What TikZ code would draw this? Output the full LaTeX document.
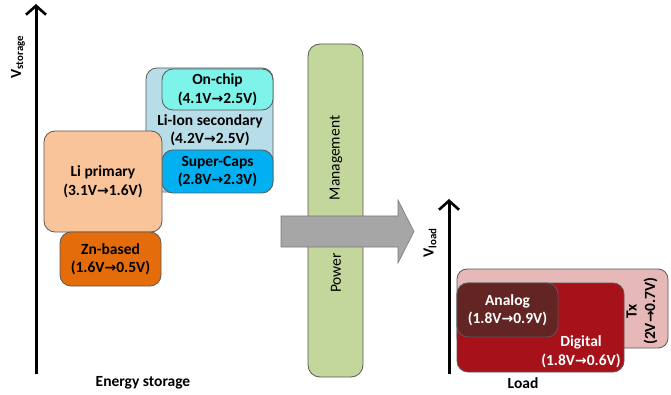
\documentclass[tikz,border=0pt]{standalone}
\usepackage{fontspec}
\setmainfont{Carlito}
\newfontfamily\arrowfont{DejaVu Sans}
\usetikzlibrary{arrows.meta}
\newcommand{\myarr}{{\arrowfont\bfseries\fontsize{14}{14}\selectfont →}}
\definecolor{bordergray}{HTML}{595959}
\definecolor{liion}{HTML}{B7DDE8}
\definecolor{onchip}{HTML}{7EF3EA}
\definecolor{supercap}{HTML}{00B0F0}
\definecolor{liprim}{HTML}{F9C49A}
\definecolor{znbased}{HTML}{E46C0A}
\definecolor{pmbar}{HTML}{C3D69B}
\definecolor{arrowgray}{HTML}{A6A6A6}
\definecolor{txcol}{HTML}{E6B9B8}
\definecolor{digcol}{HTML}{A6111A}
\definecolor{anacol}{HTML}{632523}
\begin{document}
\begin{tikzpicture}[x=1pt,y=-1pt,
  font=\fontsize{15.5}{18.5}\selectfont\bfseries,
  box/.style={draw=bordergray, line width=0.8pt, rounded corners=11pt, inner sep=0pt},
  axis/.style={line width=3pt, -{Straight Barb[length=9pt,width=20pt,line width=2.6pt]}},
  txt/.style={align=center, inner sep=0pt},
  pmtxt/.style={rotate=90, inner sep=0pt, font=\fontsize{15.5}{18.5}\selectfont\mdseries}]
\useasboundingbox (0,0) rectangle (671,395);

% left axis
\coordinate (a1b) at (36,374);
\coordinate (a1t) at (36,4);
\draw[axis] (a1b) -- (a1t);
\node[rotate=90, txt] (vstor) at (18,57) {V\textsubscript{storage}};

% storage boxes
\node[box, fill=liion, minimum width=127pt, minimum height=124pt] (liion) at (209.5,130) {};
\node[box, fill=onchip, minimum width=111pt, minimum height=41pt, txt] (onchip) at (217.5,89.5) {On-chip\\(4.1V\myarr2.5V)};
\node[txt] (liiontxt) at (210,130) {Li-Ion secondary\\(4.2V\myarr2.5V)};
\node[box, fill=supercap, minimum width=111pt, minimum height=43pt, txt] (supercap) at (217.5,171.5) {Super-Caps\\(2.8V\myarr2.3V)};
\node[box, fill=liprim, minimum width=118pt, minimum height=101pt, txt] (liprim) at (103,181.5) {Li primary\\(3.1V\myarr1.6V)};
\node[box, fill=znbased, minimum width=101pt, minimum height=54pt, txt] (zn) at (110.5,259) {Zn-based\\(1.6V\myarr0.5V)};
\node[txt] (estor) at (143,383) {Energy storage};

% power management bar
\node[box, fill=pmbar, rounded corners=12pt, minimum width=55pt, minimum height=333pt] (pm) at (335.5,210.5) {};
\node[pmtxt] (mgmt) at (336,158) {Management};
\node[pmtxt] (pwr) at (336,273) {Power};

% gray arrow
\draw[fill=arrowgray, draw=bordergray!80, line width=0.6pt]
  (281,216) -- (398,216) -- (398,200) -- (414,231.5) -- (398,263) -- (398,247) -- (281,247) -- cycle;

% right axis
\coordinate (a2b) at (449,374);
\coordinate (a2t) at (449,199);
\draw[axis] (a2b) -- (a2t);
\node[rotate=90, txt] (vload) at (430,243) {V\textsubscript{load}};

% load boxes
\node[box, fill=txcol, rounded corners=10pt, minimum width=211pt, minimum height=79pt] (tx) at (562.5,308.5) {};
\node[rotate=90, txt] (txtxt) at (642,311) {Tx\\(2V\myarr0.7V)};
\node[box, fill=digcol, minimum width=167pt, minimum height=89pt] (dig) at (540.5,327.5) {};
\node[txt, text=white] (digtxt) at (581,351.5) {Digital\\(1.8V\myarr0.6V)};
\node[box, fill=anacol, minimum width=101pt, minimum height=54pt, txt, text=white] (ana) at (507.5,310) {Analog\\(1.8V\myarr0.9V)};
\node[txt] (load) at (523,383) {Load};
\end{tikzpicture}
\end{document}
